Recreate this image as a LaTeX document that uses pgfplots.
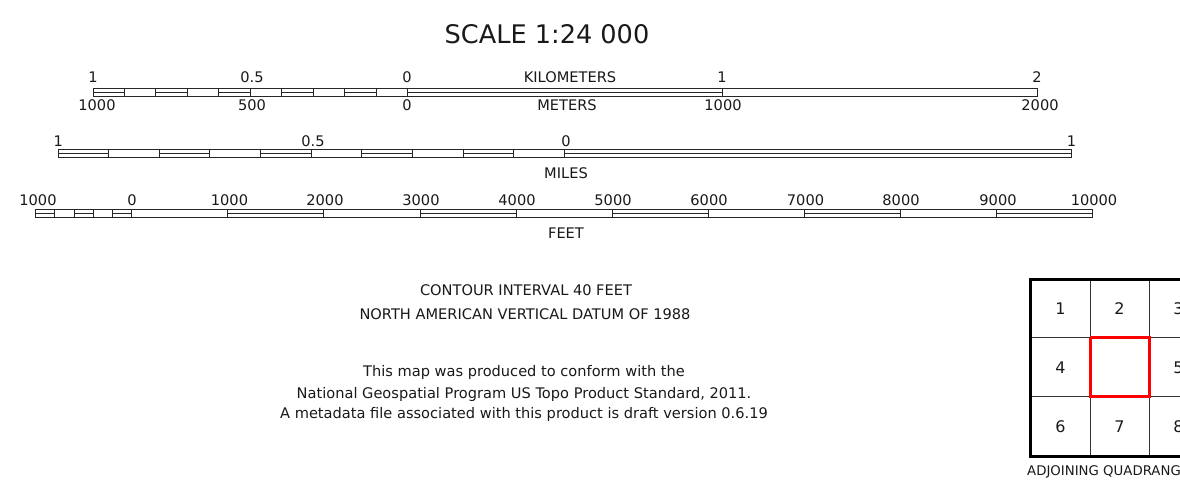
\documentclass[border=0pt]{standalone}
\usepackage{pgfplots}
\pgfplotsset{compat=1.18}
\usepackage{pgfplotstable}
\usepackage{fontspec}
\setmainfont{DejaVu Sans}

% division lines of the three scale bars (x, middle y)
\pgfplotstableread{
x y
93 92.5
124.5 92.5
155.9 92.5
187.4 92.5
218.9 92.5
250.4 92.5
281.8 92.5
313.3 92.5
344.8 92.5
376.2 92.5
407.7 92.5
722.4 92.5
1037.1 92.5
}\kmdiv
\pgfplotstableread{
x y
58 153.3
108.65 153.3
159.3 153.3
209.95 153.3
260.6 153.3
311.25 153.3
361.9 153.3
412.55 153.3
463.2 153.3
513.85 153.3
564.5 153.3
1071 153.3
}\midiv
\pgfplotstableread{
x y
35.6 213
54.8 213
74.0 213
93.3 213
112.5 213
131.7 213
227.8 213
323.9 213
420.0 213
516.1 213
612.2 213
708.3 213
804.4 213
900.5 213
996.6 213
1092.7 213
}\ftdiv
% double (filled) segments: centre, middle y, half width
\pgfplotstableread{
x y h
108.75 92.5 15.75
171.65 92.5 15.75
234.65 92.5 15.75
297.55 92.5 15.75
360.5 92.5 15.7
565.05 92.5 157.35
}\kmdbl
\pgfplotstableread{
x y h
83.325 153.3 25.325
184.625 153.3 25.325
285.925 153.3 25.325
387.225 153.3 25.325
488.525 153.3 25.325
817.75 153.3 253.25
}\midbl
\pgfplotstableread{
x y h
45.2 213 9.6
83.65 213 9.65
122.1 213 9.6
275.85 213 48.05
468.05 213 48.05
660.25 213 48.05
852.45 213 48.05
1044.65 213 48.05
}\ftdbl

\begin{document}
\begin{tikzpicture}
\path[use as bounding box] (0,0) rectangle (1180pt,485pt);
\clip (0,0) rectangle (1180pt,485pt);
\tikzset{every node/.append style={font=\fontsize{14.6}{17}\selectfont, text=black!90, inner sep=0pt}}
\begin{axis}[x=1pt, y=1pt, xmin=0, xmax=1180, ymin=0, ymax=485, y dir=reverse,
  hide axis, clip=false, anchor=south west, at={(0,0)}, unbounded coords=jump,
  divs/.style={draw=none, mark=none, forget plot,
    error bars/.cd, y dir=both, y fixed=4, error mark=none,
    error bar style={draw=black!85, line width=1pt}},
  dbls/.style={draw=none, mark=none, forget plot,
    error bars/.cd, x dir=both, x explicit, error mark=none,
    error bar style={draw=black!85, line width=1pt}}]
% outlines
\addplot[black!85, line width=1pt] coordinates {(93,88.5)(1037.1,88.5)(1037.1,96.5)(93,96.5)(93,88.5)};
\addplot[black!85, line width=1pt] coordinates {(58,149.3)(1071,149.3)(1071,157.3)(58,157.3)(58,149.3)};
\addplot[black!85, line width=1pt] coordinates {(35.6,209)(1092.7,209)(1092.7,217)(35.6,217)(35.6,209)};
% divisions
\addplot[divs] table[x=x,y=y] {\kmdiv};
\addplot[divs] table[x=x,y=y] {\midiv};
\addplot[divs] table[x=x,y=y] {\ftdiv};
% double segments
\addplot[dbls] table[x=x,y=y,x error=h] {\kmdbl};
\addplot[dbls] table[x=x,y=y,x error=h] {\midbl};
\addplot[dbls] table[x=x,y=y,x error=h] {\ftdbl};
% index of adjoining quadrangles
\addplot[black!80, line width=1pt] coordinates {(1090,279)(1090,456) (nan,nan) (1149,279)(1149,456) (nan,nan) (1030.7,337.7)(1210,337.7) (nan,nan) (1030.7,396.7)(1210,396.7)};
\addplot[black, line width=3pt] coordinates {(1210,279)(1030.7,279)(1030.7,456)(1210,456)};
\addplot[red, line width=3pt] coordinates {(1090,337.7)(1149,337.7)(1149,396.7)(1090,396.7)(1090,337.7)};

% title
\node[anchor=base, font=\fontsize{25.6}{30}\selectfont] at (axis cs:547,43) {SCALE 1:24 000};
% kilometres
\node[anchor=base] at (axis cs:93,82) {1};
\node[anchor=base] at (axis cs:252,82) {0.5};
\node[anchor=base] at (axis cs:407,82) {0};
\node[anchor=base] at (axis cs:570,82) {KILOMETERS};
\node[anchor=base] at (axis cs:722,82) {1};
\node[anchor=base] at (axis cs:1037,82) {2};
% metres
\node[anchor=base] at (axis cs:97,110.5) {1000};
\node[anchor=base] at (axis cs:252,110.5) {500};
\node[anchor=base] at (axis cs:407,110.5) {0};
\node[anchor=base] at (axis cs:567,110.5) {METERS};
\node[anchor=base] at (axis cs:723,110.5) {1000};
\node[anchor=base] at (axis cs:1040,110.5) {2000};
% miles
\node[anchor=base] at (axis cs:58.3,146) {1};
\node[anchor=base] at (axis cs:313,146) {0.5};
\node[anchor=base] at (axis cs:566,146) {0};
\node[anchor=base] at (axis cs:1071.5,146) {1};
\node[anchor=base] at (axis cs:566,178.3) {MILES};
% feet
\node[anchor=base] at (axis cs:38,205) {1000};
\node[anchor=base] at (axis cs:132,205) {0};
\node[anchor=base] at (axis cs:229.5,205) {1000};
\node[anchor=base] at (axis cs:325,205) {2000};
\node[anchor=base] at (axis cs:421,205) {3000};
\node[anchor=base] at (axis cs:517,205) {4000};
\node[anchor=base] at (axis cs:613,205) {5000};
\node[anchor=base] at (axis cs:709,205) {6000};
\node[anchor=base] at (axis cs:805.5,205) {7000};
\node[anchor=base] at (axis cs:901,205) {8000};
\node[anchor=base] at (axis cs:998,205) {9000};
\node[anchor=base] at (axis cs:1094,205) {10000};
\node[anchor=base] at (axis cs:566,238.3) {FEET};
% notes
\node[anchor=base] at (axis cs:526,295.7) {CONTOUR INTERVAL 40 FEET};
\node[anchor=base] at (axis cs:525,319) {NORTH AMERICAN VERTICAL DATUM OF 1988};
\node[anchor=base] at (axis cs:524,376) {This map was produced to conform with the};
\node[anchor=base] at (axis cs:524,398.3) {National Geospatial Program US Topo Product Standard, 2011.};
\node[anchor=base] at (axis cs:524,418.3) {A metadata file associated with this product is draft version 0.6.19};
% index numbers
\node[anchor=base, font=\fontsize{16}{19}\selectfont] at (axis cs:1060.4,314) {1};
\node[anchor=base, font=\fontsize{16}{19}\selectfont] at (axis cs:1119.5,314) {2};
\node[anchor=base, font=\fontsize{16}{19}\selectfont] at (axis cs:1178.5,314) {3};
\node[anchor=base, font=\fontsize{16}{19}\selectfont] at (axis cs:1060.4,373) {4};
\node[anchor=base, font=\fontsize{16}{19}\selectfont] at (axis cs:1178.5,373) {5};
\node[anchor=base, font=\fontsize{16}{19}\selectfont] at (axis cs:1060.4,432) {6};
\node[anchor=base, font=\fontsize{16}{19}\selectfont] at (axis cs:1119.5,432) {7};
\node[anchor=base, font=\fontsize{16}{19}\selectfont] at (axis cs:1178.5,432) {8};
\node[anchor=base west, font=\fontsize{13.3}{16}\selectfont] at (axis cs:1027,475) {ADJOINING QUADRANGLES};
\end{axis}
\end{tikzpicture}
\end{document}
